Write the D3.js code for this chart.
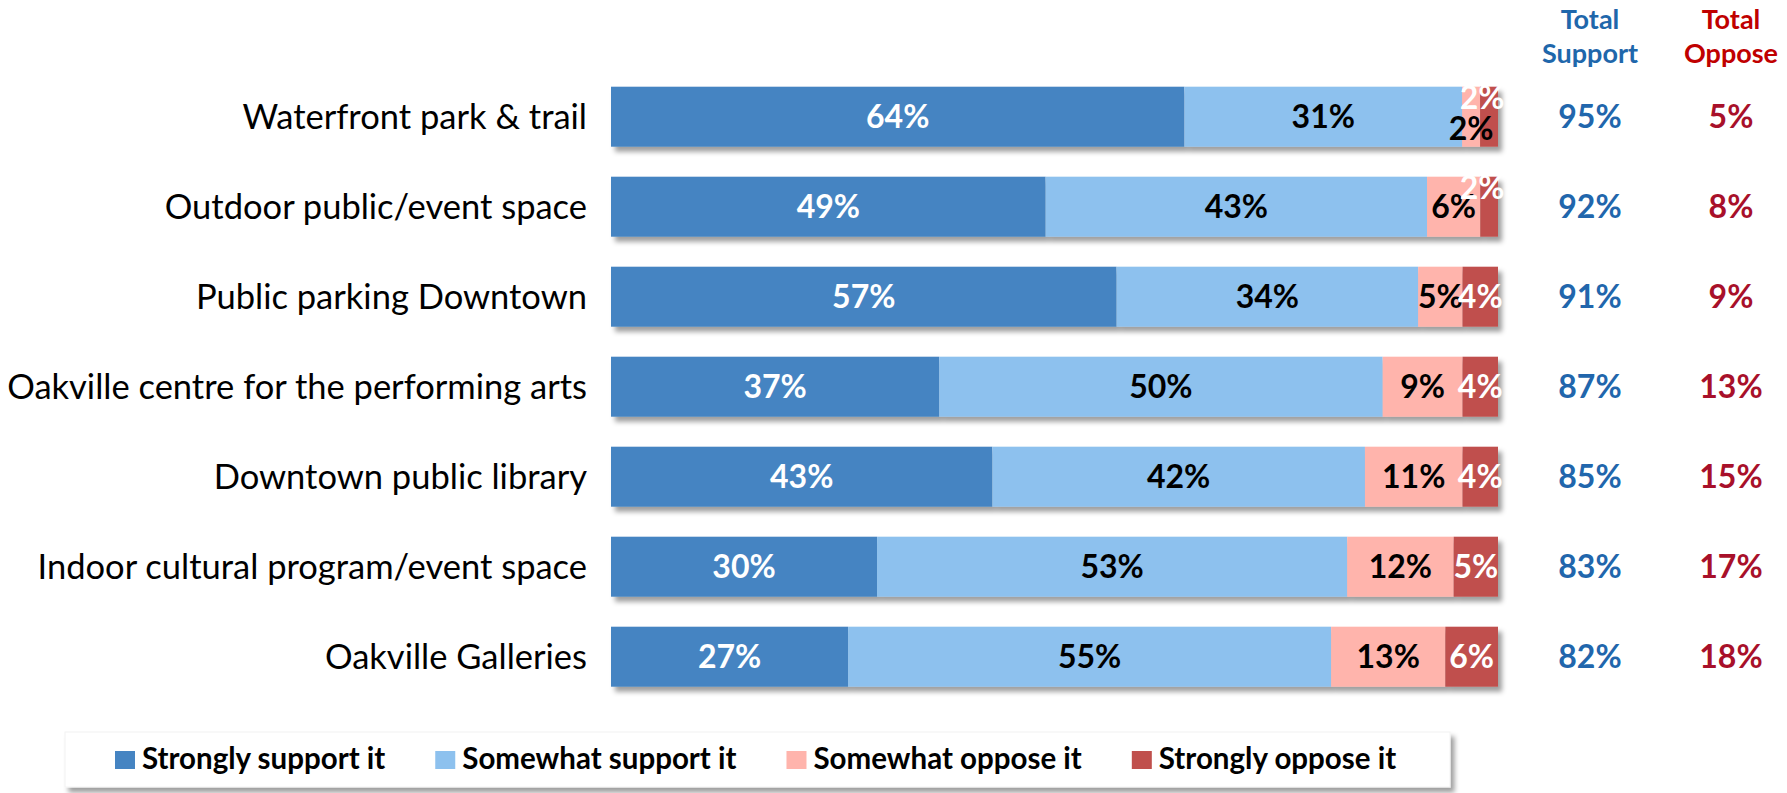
<!DOCTYPE html>
<html>
<head>
<meta charset="utf-8">
<script src="https://cdn.jsdelivr.net/npm/d3@7"></script>
<style>
  html, body { margin: 0; padding: 0; background: #fff; }
  svg { display: block; }
</style>
</head>
<body>
<svg id="chart" width="1787" height="793"></svg>
<script>
// ---- data ----
const categories = [
  "Waterfront park & trail",
  "Outdoor public/event space",
  "Public parking Downtown",
  "Oakville centre for the performing arts",
  "Downtown public library",
  "Indoor cultural program/event space",
  "Oakville Galleries"
];
const seriesNames = ["Strongly support it", "Somewhat support it", "Somewhat oppose it", "Strongly oppose it"];
const stronglySupport = [64, 49, 57, 37, 43, 30, 27];
const somewhatSupport = [31, 43, 34, 50, 42, 53, 55];
const somewhatOppose  = [2, 6, 5, 9, 11, 12, 13];
const stronglyOppose  = [2, 2, 4, 4, 4, 5, 6];
const totalSupport = [95, 92, 91, 87, 85, 83, 82];
const totalOppose  = [5, 8, 9, 13, 15, 17, 18];

// ---- styles ----
const colors = ["#4584C2", "#8DC1EE", "#FFB4AC", "#C0504D"];
const labelColors = ["#ffffff", "#000000", "#000000", "#ffffff"];
const FONT = "Lato, 'Open Sans', 'Liberation Sans', sans-serif";

const rows = categories.map((c, i) => ({
  category: c,
  "Strongly support it": stronglySupport[i],
  "Somewhat support it": somewhatSupport[i],
  "Somewhat oppose it": somewhatOppose[i],
  "Strongly oppose it": stronglyOppose[i]
}));

const svg = d3.select("#chart");

const defs = svg.append("defs");
const f = defs.append("filter").attr("id", "shadow")
  .attr("x", "-5%").attr("y", "-20%").attr("width", "115%").attr("height", "160%");
f.append("feDropShadow").attr("dx", 4).attr("dy", 5).attr("stdDeviation", 2.5)
  .attr("flood-color", "#000").attr("flood-opacity", 0.38);

const x = d3.scaleLinear().domain([0, 1]).range([611, 1498]);
const y = d3.scaleBand().domain(categories).range([56.7, 716.7]).padding(1 / 3);
const color = d3.scaleOrdinal().domain(seriesNames).range(colors);

const stack = d3.stack().keys(seriesNames).offset(d3.stackOffsetExpand);
const stacked = stack(rows);

// bars: one group per category so the shadow sits under the whole bar
const rowGroups = svg.append("g").selectAll("g.row")
  .data(categories).join("g").attr("class", "row")
  .attr("filter", "url(#shadow)");

rowGroups.each(function (cat, i) {
  const g = d3.select(this);
  stacked.forEach((s, k) => {
    const d = s[i];
    g.append("rect")
      .attr("x", x(d[0]))
      .attr("y", y(cat))
      .attr("width", x(d[1]) - x(d[0]))
      .attr("height", y.bandwidth())
      .attr("fill", color(s.key));
  });
});

// value labels
const labels = svg.append("g");
stacked.forEach((s, k) => {
  s.forEach((d, i) => {
    const v = d.data[s.key];
    let cx = (x(d[0]) + x(d[1])) / 2;
    let cy = y(categories[i]) + y.bandwidth() / 2;
    if (v <= 2 && k === 2) { cy += 12; }
    if (v <= 2 && k === 3) { cy -= 19; cx -= 7; }
    labels.append("text")
      .attr("x", cx).attr("y", cy).attr("dy", "0.36em")
      .attr("text-anchor", "middle")
      .attr("font-family", FONT).attr("font-weight", 700).attr("font-size", 32)
      .attr("fill", labelColors[k])
      .text(v + "%");
  });
});

// category labels
svg.append("g").selectAll("text").data(categories).join("text")
  .attr("x", 587)
  .attr("y", d => y(d) + y.bandwidth() / 2)
  .attr("dy", "0.36em")
  .attr("text-anchor", "end")
  .attr("font-family", FONT).attr("font-size", 34.5).attr("fill", "#000")
  .text(d => d);

// totals columns
const supX = 1590, oppX = 1731;
const head = svg.append("g").attr("font-family", FONT).attr("font-weight", 700)
  .attr("font-size", 27).attr("text-anchor", "middle");
head.append("text").attr("x", supX).attr("y", 29).attr("fill", "#1F67AB").text("Total");
head.append("text").attr("x", supX).attr("y", 63).attr("fill", "#1F67AB").text("Support");
head.append("text").attr("x", oppX).attr("y", 29).attr("fill", "#C00000").text("Total");
head.append("text").attr("x", oppX).attr("y", 63).attr("fill", "#C00000").text("Oppose");

svg.append("g").selectAll("text").data(categories).join("text")
  .attr("x", supX).attr("y", d => y(d) + y.bandwidth() / 2).attr("dy", "0.36em")
  .attr("text-anchor", "middle")
  .attr("font-family", FONT).attr("font-weight", 700).attr("font-size", 32)
  .attr("fill", "#2166AC")
  .text((d, i) => totalSupport[i] + "%");

svg.append("g").selectAll("text").data(categories).join("text")
  .attr("x", oppX).attr("y", d => y(d) + y.bandwidth() / 2).attr("dy", "0.36em")
  .attr("text-anchor", "middle")
  .attr("font-family", FONT).attr("font-weight", 700).attr("font-size", 32)
  .attr("fill", "#A8102A")
  .text((d, i) => totalOppose[i] + "%");

// legend
const legend = svg.append("g");
legend.append("rect").attr("x", 65).attr("y", 732).attr("width", 1385).attr("height", 55)
  .attr("fill", "#fff").attr("stroke", "#f2f2f2").attr("filter", "url(#shadow)");
let lx = 115;
seriesNames.forEach((name, k) => {
  legend.append("rect").attr("x", lx).attr("y", 751).attr("width", 20).attr("height", 18)
    .attr("fill", colors[k]);
  const t = legend.append("text").attr("x", lx + 27).attr("y", 769)
    .attr("font-family", FONT).attr("font-weight", 700).attr("font-size", 29.5)
    .attr("fill", "#000").text(name);
  lx = lx + 27 + t.node().getComputedTextLength() + 50;
});
</script>
</body>
</html>
